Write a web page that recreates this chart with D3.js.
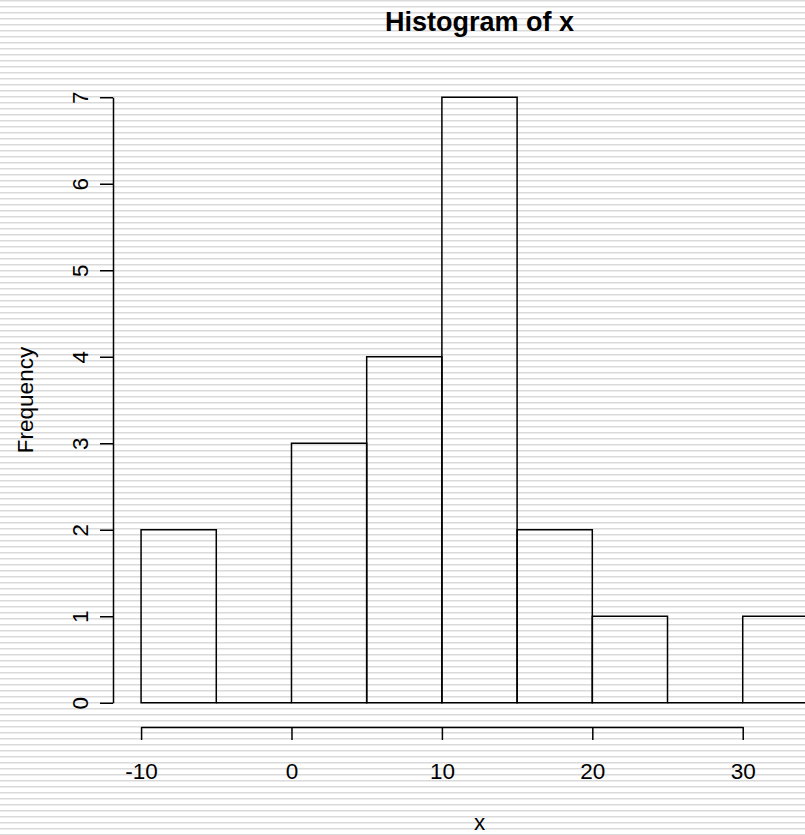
<!DOCTYPE html>
<html>
<head>
<meta charset="utf-8">
<script src="https://cdn.jsdelivr.net/npm/d3@7"></script>
<style>
    html, body { margin: 0; padding: 0; background: #fff; }
    svg { display: block; font-family: 'Liberation Sans', Arial, sans-serif; }
</style>
</head>
<body>
<svg width="805" height="835"></svg>
<script>
// histogram bins (breaks) and counts
const breaks = [-10, -5, 0, 5, 10, 15, 20, 25, 30, 35]
const counts = [2, 0, 3, 4, 7, 2, 1, 0, 1]
const xTicks = [-10, 0, 10, 20, 30]
const yTicks = [0, 1, 2, 3, 4, 5, 6, 7]

const width = 805
const height = 835

// plot region (R style, 4% padding on usr coords)
const plotLeft = 114
const plotRight = 845
const plotTop = 73
const plotBottom = 727

const svg = d3.select('svg')

// striped background
const defs = svg.append('defs')
const pattern = defs
    .append('pattern')
    .attr('id', 'stripes')
    .attr('patternUnits', 'userSpaceOnUse')
    .attr('width', 8)
    .attr('height', 6)
pattern.append('rect').attr('width', 8).attr('height', 6).attr('fill', '#fff')
pattern.append('rect').attr('y', 0).attr('width', 8).attr('height', 1).attr('fill', '#dadada')
pattern.append('rect').attr('y', 1).attr('width', 8).attr('height', 1).attr('fill', '#ececec')

svg.append('rect').attr('width', width).attr('height', height).attr('fill', 'url(#stripes)')

const xMin = breaks[0]
const xMax = breaks[breaks.length - 1]
const xPad = 0.04 * (xMax - xMin)
const yMax = d3.max(counts)
const yPad = 0.04 * yMax

const xScale = d3.scaleLinear().domain([xMin - xPad, xMax + xPad]).range([plotLeft, plotRight])
const yScale = d3.scaleLinear().domain([-yPad, yMax + yPad]).range([plotBottom, plotTop])

// bars, drawn as closed paths so empty bins still show a flat line
const bins = counts.map((c, i) => ({ x0: breaks[i], x1: breaks[i + 1], n: c }))

svg.append('g')
    .attr('class', 'bars')
    .selectAll('path')
    .data(bins)
    .enter()
    .append('path')
    .attr('d', (d) => {
        const p = d3.path()
        p.moveTo(xScale(d.x0), yScale(0))
        p.lineTo(xScale(d.x0), yScale(d.n))
        p.lineTo(xScale(d.x1), yScale(d.n))
        p.lineTo(xScale(d.x1), yScale(0))
        p.closePath()
        return p.toString()
    })
    .attr('fill', 'none')
    .attr('stroke', '#000')
    .attr('stroke-width', 1.5)

// x axis, only spans the tick range like R does
const xAxisScale = d3
    .scaleLinear()
    .domain(d3.extent(xTicks))
    .range(d3.extent(xTicks).map(xScale))

const xAxis = svg
    .append('g')
    .attr('transform', `translate(0, ${plotBottom})`)
    .call(d3.axisBottom(xAxisScale).tickValues(xTicks).tickSize(13).tickSizeOuter(0))

xAxis.select('.domain').attr('stroke-width', 1.5)
xAxis.selectAll('.tick line').attr('stroke-width', 1.5)
xAxis
    .selectAll('.tick text')
    .attr('y', 52)
    .attr('dy', 0)
    .attr('fill', '#000')
    .style('font-size', '22.5px')
    .style('font-family', "'Liberation Sans', Arial, sans-serif")
    .text((d) => (d < 0 ? '-' + Math.abs(d) : d))

// y axis
const yAxisScale = d3
    .scaleLinear()
    .domain(d3.extent(yTicks))
    .range(d3.extent(yTicks).map(yScale))

const yAxis = svg
    .append('g')
    .attr('transform', `translate(${plotLeft - 1}, 0)`)
    .call(d3.axisLeft(yAxisScale).tickValues(yTicks).tickSize(13).tickSizeOuter(0).tickFormat(d3.format('d')))

yAxis.select('.domain').attr('stroke-width', 1.5)
yAxis.selectAll('.tick line').attr('stroke-width', 1.5)
yAxis
    .selectAll('.tick text')
    .attr('x', 0)
    .attr('dy', 0)
    .attr('transform', 'translate(-25, 0) rotate(-90)')
    .attr('fill', '#000')
    .style('text-anchor', 'middle')
    .style('font-size', '22.5px')
    .style('font-family', "'Liberation Sans', Arial, sans-serif")

// labels
const midX = (plotLeft + plotRight) / 2

svg.append('text')
    .attr('x', midX)
    .attr('y', 31)
    .attr('text-anchor', 'middle')
    .attr('font-weight', 'bold')
    .attr('font-size', '27px')
    .text('Histogram of x')

svg.append('text')
    .attr('x', midX)
    .attr('y', 830)
    .attr('text-anchor', 'middle')
    .attr('font-size', '22.5px')
    .text('x')

svg.append('text')
    .attr('transform', `translate(33, ${(plotTop + plotBottom) / 2}) rotate(-90)`)
    .attr('text-anchor', 'middle')
    .attr('font-size', '22.5px')
    .text('Frequency')
</script>
</body>
</html>
